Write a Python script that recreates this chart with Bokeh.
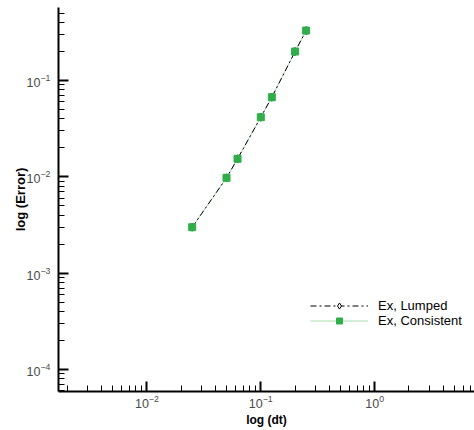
from bokeh.plotting import figure
from bokeh.models import Range1d, Legend, LegendItem
from bokeh.embed import file_html
from bokeh.resources import INLINE

# Time step sizes and the resulting errors for the two mass-matrix variants
dt = [0.025, 0.05, 0.0625, 0.1, 0.125, 0.2, 0.25]
err_lumped = [0.0030, 0.00977, 0.0154, 0.0416, 0.0671, 0.200, 0.330]
err_consistent = [0.0030, 0.00977, 0.0154, 0.0416, 0.0671, 0.200, 0.330]

series_names = ["Ex, Lumped", "Ex, Consistent"]
x_label = "log (dt)"
y_label = "log (Error)"

FONT = "Liberation Sans"

p = figure(
    width=474, height=430,
    x_axis_type="log", y_axis_type="log",
    x_range=Range1d(0.001675, 7.52),
    y_range=Range1d(5.91e-5, 0.573),
    output_backend="svg", toolbar_location=None,
    min_border_left=58, min_border_right=0,
    min_border_top=7, min_border_bottom=39,
)
p.outline_line_color = None
p.background_fill_color = "white"
p.border_fill_color = "white"
p.xgrid.visible = False
p.ygrid.visible = False

for ax in (p.xaxis[0], p.yaxis[0]):
    ax.axis_line_width = 2
    ax.axis_line_color = "black"
    ax.major_tick_line_color = "black"
    ax.minor_tick_line_color = "black"
    ax.major_tick_line_width = 2
    ax.minor_tick_line_width = 1
    ax.major_tick_in = 10
    ax.major_tick_out = 0
    ax.minor_tick_in = 6
    ax.minor_tick_out = 0
    ax.major_label_text_font = FONT
    ax.major_label_text_font_size = "12.5px"
    ax.major_label_text_color = "#4a4a4a"
    ax.axis_label_text_font = FONT
    ax.axis_label_text_font_style = "bold"
    ax.axis_label_text_color = "black"

p.xaxis.axis_label = x_label
p.yaxis.axis_label = y_label
p.xaxis.axis_label_text_font_size = "12px"
p.yaxis.axis_label_text_font_size = "13px"
p.xaxis.major_label_standoff = 3
p.xaxis.axis_label_standoff = 2
p.yaxis.major_label_standoff = 8
p.yaxis.axis_label_standoff = -4

# Consistent: pale green line underneath
l2 = p.line(dt, err_consistent, line_color="#a8dcb0", line_width=1)

# Lumped: black dash-dot line with open diamonds
l1 = p.line(dt, err_lumped, line_color="black", line_width=1, line_dash="6 3 2 3")
m1 = p.scatter(dt, err_lumped, marker="diamond", size=8,
               fill_color="white", line_color="black", line_width=1)

# Consistent: filled green squares on top
m2 = p.scatter(dt, err_consistent, marker="square", size=7,
               fill_color="#2fae4a", line_color="#2fae4a", line_width=1)

legend = Legend(
    items=[LegendItem(label=series_names[0], renderers=[l1, m1]),
           LegendItem(label=series_names[1], renderers=[l2, m2])],
    location=(252, 63),
    glyph_width=58, glyph_height=15, label_height=15,
    label_standoff=10, spacing=0, padding=0, margin=0,
    border_line_color=None, background_fill_alpha=0,
    label_text_font=FONT, label_text_font_size="13px",
    label_text_color="black",
)
p.add_layout(legend)

open("out.html", "w").write(file_html(p, INLINE))
